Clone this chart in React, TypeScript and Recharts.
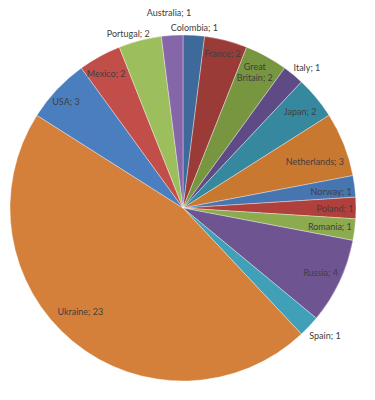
import React from 'react';
import { PieChart, Pie, Cell } from 'recharts';

const COUNTRIES = [
  'Colombia', 'France', 'Great Britain', 'Italy', 'Japan', 'Netherlands', 'Norway', 'Poland',
  'Romania', 'Russia', 'Spain', 'Ukraine', 'USA', 'Mexico', 'Portugal', 'Australia',
];
const COUNTS = [1, 2, 2, 1, 2, 3, 1, 1, 1, 4, 1, 23, 3, 2, 2, 1];

const COLORS = [
  '#3d6a9a', '#9a3b38', '#77963f', '#5e4b85', '#35889e', '#c9782f', '#4675b0', '#b0403c',
  '#8caa4e', '#6e5491', '#40a0b8', '#d4803a', '#4a7ebe', '#c24e4a', '#9dbe5c', '#8566a8',
];

// label placement like Excel's "best fit": [distance from centre, clockwise nudge in degrees]
const LABEL_PLACE: Record<string, [number, number]> = {
  Colombia: [181, 0], France: [159, 0], 'Great Britain': [153, -0.8], Italy: [187, 1.9],
  Japan: [152, 0], Netherlands: [140, 2], Norway: [149, 1], Poland: [152, 0],
  Romania: [148, 0], Russia: [152, 0], Spain: [191, -1.2], Ukraine: [146, 5.1],
  USA: [158, -1], Mexico: [155, -0.9], Portugal: [183, -3], Australia: [196, -0.5],
};

const data = COUNTRIES.map((name, i) => ({ name, value: COUNTS[i] }));

const RAD = Math.PI / 180;

function renderLabel(props: any) {
  const { cx, cy, midAngle, name, value } = props;
  const [r, nudge] = LABEL_PLACE[name] ?? [150, 0];
  const a = midAngle - nudge;
  const x = cx + r * Math.cos(-a * RAD);
  const y = cy + r * Math.sin(-a * RAD);
  const style = { fontFamily: 'Lato, "Open Sans", sans-serif', fontSize: 9, fill: '#404040' };
  if (name === 'Great Britain') {
    return (
      <text x={x} y={y} textAnchor="middle" style={style}>
        <tspan x={x} dy={-2.5}>Great</tspan>
        <tspan x={x} dy={11}>Britain; {value}</tspan>
      </text>
    );
  }
  return (
    <text x={x} y={y} textAnchor="middle" dominantBaseline="central" style={style}>
      {name}; {value}
    </text>
  );
}

export default function App() {
  return (
    <div style={{ position: 'absolute', left: 0, top: 0, width: 375, height: 400, background: '#fff' }}>
      <PieChart width={375} height={400} margin={{ top: 0, right: 0, bottom: 0, left: 0 }}>
        <Pie
          data={data}
          dataKey="value"
          nameKey="name"
          cx={183}
          cy={208}
          outerRadius={173}
          startAngle={90}
          endAngle={-270}
          stroke="#ffffff"
          strokeOpacity={0.5}
          strokeWidth={0.7}
          label={renderLabel}
          labelLine={false}
          isAnimationActive={false}
        >
          {data.map((_, i) => <Cell key={i} fill={COLORS[i]} />)}
        </Pie>
      </PieChart>
    </div>
  );
}
